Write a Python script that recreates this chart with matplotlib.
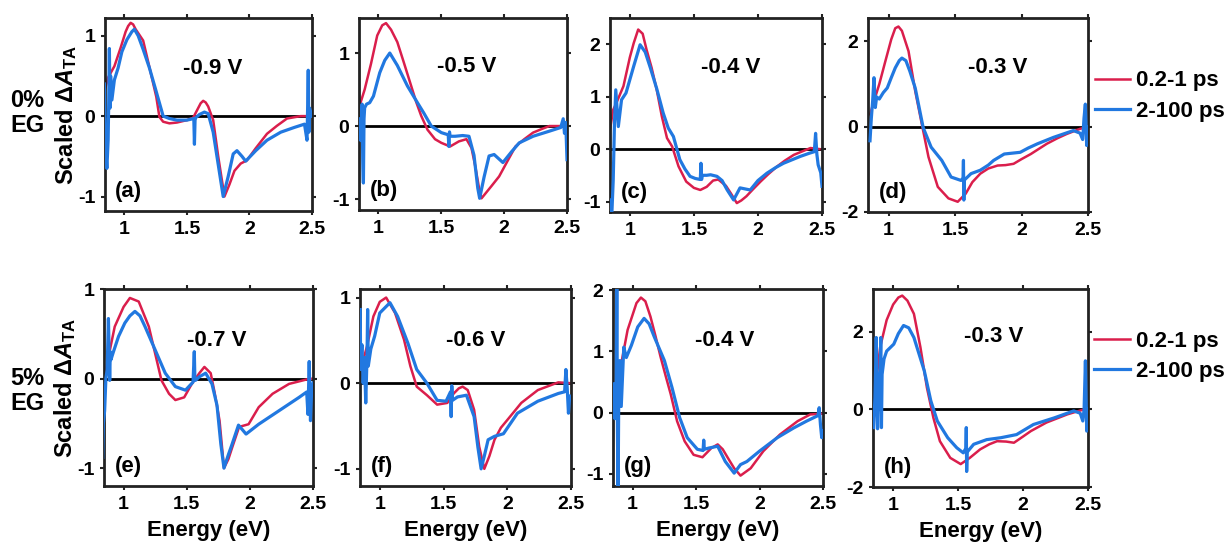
import matplotlib
matplotlib.use('Agg')
import matplotlib.pyplot as plt

plt.rcParams['font.family'] = ['Liberation Sans', 'DejaVu Sans']
plt.rcParams['font.weight'] = 'bold'
plt.rcParams['mathtext.fontset'] = 'custom'
plt.rcParams['mathtext.rm'] = 'Liberation Sans:bold'
plt.rcParams['mathtext.bf'] = 'Liberation Sans:bold'
plt.rcParams['mathtext.it'] = 'Liberation Sans:bold:italic'

RED = '#DA1E4C'
BLUE = '#2178E0'

# ---- data (energy in eV, scaled dA) ----
# (a) 0% EG, -0.9 V
a_red_e = [0.84, 0.87, 0.92, 0.97, 1.01, 1.03, 1.05, 1.07, 1.09, 1.15, 1.2, 1.255, 1.28, 1.31, 1.36, 1.42,
           1.5, 1.55, 1.59, 1.61, 1.63, 1.65, 1.67, 1.71, 1.75, 1.8, 1.84, 1.88, 1.93, 1.98, 2.05, 2.14, 2.22,
           2.3, 2.41, 2.5]
a_red = [0.3, 0.48, 0.62, 0.85, 1.05, 1.12, 1.16, 1.14, 1.08, 0.94, 0.61, 0.24, -0.01, -0.07, -0.09, -0.08,
         -0.05, -0.02, 0.1, 0.16, 0.19, 0.17, 0.12, -0.05, -0.5, -1.0, -0.85, -0.68, -0.59, -0.55, -0.4, -0.22,
         -0.12, -0.03, 0.0, 0.0]
a_blue_e = [0.84, 0.85, 0.86, 0.87, 0.875, 0.88, 0.885, 0.89, 0.9, 0.92, 0.95, 0.98, 1.02, 1.06, 1.08, 1.11,
            1.15, 1.2, 1.25, 1.31, 1.36, 1.42, 1.5, 1.555, 1.56, 1.565, 1.57, 1.6, 1.64, 1.67, 1.71, 1.75,
            1.79, 1.83, 1.87, 1.9, 1.94, 1.97, 2.05, 2.14, 2.25, 2.36, 2.44, 2.46, 2.465, 2.47, 2.475, 2.48, 2.5]
a_blue = [0.4, -0.4, -0.65, -0.3, 0.2, 0.84, 0.1, 0.5, 0.2, 0.45, 0.6, 0.8, 0.95, 1.05, 1.08, 1.0,
          0.83, 0.6, 0.33, 0.0, -0.03, -0.05, -0.05, -0.03, -0.35, -0.05, -0.02, 0.02, 0.05, 0.03, -0.2, -0.6,
          -1.0, -0.75, -0.47, -0.43, -0.5, -0.56, -0.43, -0.3, -0.2, -0.14, -0.1, -0.3, 0.1, 0.57, -0.2, 0.1, 0.0]

# (b) 0% EG, -0.5 V
b_red_e = [0.85, 0.89, 0.94, 0.99, 1.03, 1.06, 1.1, 1.15, 1.2, 1.26, 1.3, 1.34, 1.39, 1.45, 1.5, 1.57,
           1.64, 1.7, 1.74, 1.77, 1.8, 1.82, 1.9, 1.96, 2.02, 2.09, 2.16, 2.23, 2.3, 2.36, 2.5]
b_red = [0.28, 0.5, 0.85, 1.24, 1.38, 1.41, 1.32, 1.15, 0.88, 0.55, 0.33, 0.14, -0.05, -0.18, -0.23, -0.28,
         -0.21, -0.18, -0.3, -0.55, -0.85, -0.99, -0.82, -0.69, -0.5, -0.28, -0.18, -0.09, -0.04, 0.0, 0.0]
b_blue_e = [0.85, 0.86, 0.87, 0.875, 0.88, 0.885, 0.89, 0.905, 0.93, 0.96, 1.01, 1.05, 1.09, 1.15, 1.23,
            1.31, 1.36, 1.42, 1.5, 1.555, 1.56, 1.565, 1.57, 1.61, 1.67, 1.72, 1.76, 1.79, 1.805, 1.84, 1.88,
            1.92, 1.99, 2.06, 2.12, 2.23, 2.36, 2.45, 2.47, 2.48, 2.49, 2.5]
b_blue = [0.1, -0.2, 0.3, -0.5, -0.78, 0.1, 0.25, 0.3, 0.32, 0.41, 0.73, 0.9, 1.0, 0.83, 0.55,
          0.32, 0.18, 0.0, -0.09, -0.12, -0.28, -0.08, -0.14, -0.14, -0.13, -0.14, -0.4, -0.85, -0.99, -0.7, -0.41,
          -0.39, -0.5, -0.35, -0.23, -0.14, -0.07, -0.02, 0.1, -0.1, 0.05, -0.46]

# (c) 0% EG, -0.4 V
c_red_e = [0.84, 0.87, 0.895, 0.95, 1.0, 1.03, 1.065, 1.1, 1.13, 1.17, 1.21, 1.25, 1.29, 1.33, 1.38, 1.44,
           1.5, 1.55, 1.6, 1.65, 1.69, 1.75, 1.79, 1.835, 1.87, 1.91, 1.96, 2.02, 2.08, 2.15, 2.21, 2.28, 2.35,
           2.41, 2.48]
c_red = [0.3, 0.75, 0.88, 1.2, 1.75, 2.02, 2.28, 2.2, 1.9, 1.55, 1.13, 0.62, 0.21, 0.05, -0.33, -0.62,
         -0.74, -0.78, -0.72, -0.6, -0.58, -0.7, -0.85, -1.03, -0.98, -0.9, -0.77, -0.62, -0.48, -0.33, -0.22,
         -0.11, -0.04, 0.02, 0.0]
c_blue_e = [0.84, 0.85, 0.86, 0.87, 0.88, 0.89, 0.91, 0.935, 0.97, 1.03, 1.08, 1.12, 1.16, 1.21, 1.26, 1.3,
            1.34, 1.39, 1.43, 1.47, 1.51, 1.55, 1.555, 1.56, 1.565, 1.6, 1.63, 1.68, 1.72, 1.76, 1.81, 1.86,
            1.9, 1.94, 2.0, 2.07, 2.14, 2.2, 2.27, 2.33, 2.4, 2.44, 2.45, 2.46, 2.47, 2.49, 2.5]
c_blue = [-0.97, -1.2, -1.2, -0.6, 0.5, 1.13, 0.43, 0.94, 1.07, 1.58, 1.99, 1.85, 1.55, 1.15, 0.69, 0.4,
          0.24, -0.2, -0.38, -0.52, -0.56, -0.58, -0.27, -0.58, -0.5, -0.5, -0.49, -0.52, -0.6, -0.78, -0.97, -0.74,
          -0.76, -0.78, -0.6, -0.46, -0.35, -0.27, -0.2, -0.14, -0.08, -0.05, 0.3, -0.1, -0.3, -0.45, -0.71]

# (d) 0% EG, -0.3 V
d_red_e = [0.86, 0.9, 0.93, 0.975, 1.02, 1.05, 1.074, 1.1, 1.15, 1.2, 1.25, 1.3, 1.37, 1.45, 1.52, 1.58,
           1.63, 1.69, 1.75, 1.82, 1.88, 1.94, 2.0, 2.07, 2.13, 2.19, 2.27, 2.34, 2.44, 2.5]
d_red = [0.29, 0.7, 1.0, 1.53, 2.05, 2.31, 2.35, 2.25, 1.77, 0.84, 0.06, -0.71, -1.41, -1.68, -1.76, -1.57,
         -1.3, -1.1, -0.98, -0.91, -0.9, -0.87, -0.76, -0.64, -0.52, -0.4, -0.27, -0.17, -0.05, 0.0]
d_blue_e = [0.86, 0.87, 0.88, 0.89, 0.9, 0.91, 0.93, 0.96, 0.99, 1.02, 1.05, 1.08, 1.1, 1.13, 1.16, 1.2,
            1.26, 1.32, 1.4, 1.47, 1.545, 1.56, 1.563, 1.566, 1.57, 1.62, 1.69, 1.75, 1.79, 1.87, 1.99, 2.05,
            2.12, 2.24, 2.39, 2.44, 2.46, 2.47, 2.48, 2.49, 2.5]
d_blue = [-0.33, 0.2, 0.6, 1.15, 0.45, 0.7, 0.65, 0.8, 0.91, 1.15, 1.38, 1.55, 1.61, 1.55, 1.3, 0.91,
          -0.02, -0.48, -0.79, -1.18, -1.26, -1.2, -0.79, -1.72, -1.25, -1.1, -1.02, -0.9, -0.79, -0.64, -0.6, -0.5,
          -0.4, -0.25, -0.09, -0.15, -0.3, 0.2, 0.53, -0.44, 0.0]

# (e) 5% EG, -0.7 V
e_red_e = [0.835, 0.88, 0.93, 1.0, 1.05, 1.12, 1.2, 1.25, 1.3, 1.36, 1.41, 1.48, 1.54, 1.6, 1.64, 1.69,
           1.72, 1.76, 1.795, 1.83, 1.86, 1.915, 1.99, 2.07, 2.18, 2.31, 2.45, 2.5]
e_red = [-0.09, 0.24, 0.58, 0.8, 0.9, 0.86, 0.58, 0.28, -0.02, -0.17, -0.24, -0.21, -0.06, 0.06, 0.13, 0.06,
         -0.15, -0.47, -1.0, -0.9, -0.77, -0.54, -0.51, -0.32, -0.17, -0.06, -0.01, 0.0]
e_blue_e = [0.835, 0.84, 0.85, 0.86, 0.87, 0.88, 0.89, 0.895, 0.9, 0.92, 0.96, 1.01, 1.05, 1.09, 1.13, 1.17,
            1.25, 1.33, 1.41, 1.49, 1.55, 1.56, 1.565, 1.57, 1.6, 1.65, 1.7, 1.74, 1.77, 1.795, 1.83, 1.86,
            1.91, 1.97, 2.07, 2.23, 2.39, 2.45, 2.46, 2.47, 2.48, 2.49, 2.5]
e_blue = [-0.88, -0.5, -0.36, 0.0, 0.1, 0.67, -0.02, 0.3, 0.21, 0.3, 0.47, 0.62, 0.7, 0.75, 0.7, 0.58,
          0.32, 0.06, -0.09, -0.13, -0.04, 0.3, -0.02, -0.02, 0.02, 0.06, -0.06, -0.3, -0.73, -1.0, -0.85, -0.73,
          -0.52, -0.62, -0.51, -0.36, -0.21, -0.15, -0.4, 0.19, -0.47, -0.1, -0.05]

# (f) 5% EG, -0.6 V
f_red_e = [0.85, 0.9, 0.95, 1.0, 1.05, 1.12, 1.19, 1.24, 1.29, 1.37, 1.45, 1.53, 1.58, 1.62, 1.65, 1.69,
           1.74, 1.78, 1.82, 1.86, 1.9, 1.95, 2.0, 2.11, 2.24, 2.4, 2.5]
f_red = [0.16, 0.43, 0.78, 0.95, 1.0, 0.82, 0.51, 0.2, -0.04, -0.14, -0.25, -0.23, -0.12, -0.06, -0.04, -0.08,
         -0.31, -0.74, -1.0, -0.85, -0.66, -0.52, -0.43, -0.23, -0.08, 0.01, 0.0]
f_blue_e = [0.847, 0.85, 0.86, 0.87, 0.88, 0.89, 0.9, 0.905, 0.91, 0.93, 0.96, 1.0, 1.04, 1.08, 1.14, 1.22,
            1.29, 1.37, 1.45, 1.52, 1.555, 1.56, 1.565, 1.57, 1.61, 1.68, 1.74, 1.77, 1.795, 1.82, 1.85, 1.9,
            1.97, 2.08, 2.24, 2.4, 2.45, 2.46, 2.47, 2.48, 2.49]
f_blue = [0.86, 0.16, 0.45, 0.0, 0.3, -0.23, 0.3, 0.86, 0.2, 0.4, 0.55, 0.82, 0.88, 0.94, 0.78, 0.47,
          0.16, 0.0, -0.2, -0.21, -0.1, -0.39, -0.03, -0.2, -0.16, -0.14, -0.39, -0.75, -1.0, -0.85, -0.66, -0.62,
          -0.59, -0.35, -0.21, -0.12, -0.1, 0.16, -0.05, -0.35, -0.15]

# (g) 5% EG, -0.4 V
g_red_e = [0.85, 0.91, 0.96, 1.03, 1.065, 1.1, 1.14, 1.18, 1.22, 1.26, 1.3, 1.35, 1.41, 1.48, 1.55, 1.62,
           1.67, 1.71, 1.75, 1.8, 1.85, 1.93, 2.03, 2.16, 2.3, 2.4, 2.49]
g_red = [0.14, 0.8, 1.35, 1.79, 1.88, 1.82, 1.57, 1.25, 0.91, 0.6, 0.3, -0.14, -0.47, -0.69, -0.73, -0.58,
         -0.52, -0.6, -0.74, -0.91, -1.03, -0.91, -0.63, -0.36, -0.14, -0.03, -0.02]
g_blue_e = [0.85, 0.86, 0.87, 0.875, 0.88, 0.885, 0.89, 0.9, 0.91, 0.93, 0.95, 0.99, 1.04, 1.09, 1.13, 1.17,
            1.25, 1.31, 1.37, 1.43, 1.51, 1.555, 1.56, 1.565, 1.6, 1.67, 1.73, 1.8, 1.85, 1.9, 2.0, 2.14,
            2.27, 2.37, 2.46, 2.47, 2.48, 2.49, 2.5]
g_blue = [0.47, -0.1, 0.3, 2.3, -0.3, -1.4, 0.2, 0.85, 0.1, 1.07, 0.9, 1.1, 1.4, 1.54, 1.45, 1.24,
          0.85, 0.41, -0.08, -0.41, -0.6, -0.62, -0.45, -0.6, -0.58, -0.55, -0.8, -0.99, -0.85, -0.8, -0.63, -0.41,
          -0.25, -0.14, -0.05, 0.08, -0.2, -0.41, -0.3]

# (h) 5% EG, -0.3 V
h_red_e = [0.85, 0.9, 0.95, 1.0, 1.04, 1.07, 1.11, 1.16, 1.21, 1.26, 1.31, 1.36, 1.44, 1.52, 1.59, 1.67, 1.74,
           1.8, 1.87, 1.93, 2.0, 2.06, 2.18, 2.34, 2.47, 2.5]
h_red = [0.15, 1.6, 2.3, 2.7, 2.88, 2.93, 2.8, 2.46, 1.6, 0.56, -0.22, -0.82, -1.25, -1.41, -1.25, -1.03, -0.9,
         -0.82, -0.83, -0.86, -0.7, -0.56, -0.34, -0.13, 0.0, 0.0]
h_blue_e = [0.85, 0.86, 0.87, 0.88, 0.89, 0.9, 0.905, 0.91, 0.915, 0.93, 0.95, 1.005, 1.04, 1.08, 1.12, 1.16,
            1.24, 1.29, 1.34, 1.42, 1.49, 1.54, 1.56, 1.563, 1.566, 1.57, 1.62, 1.72, 1.83, 1.95, 2.08, 2.24,
            2.39, 2.44, 2.46, 2.47, 2.48, 2.49, 2.5]
h_blue = [-0.47, 0.3, 1.85, -0.5, 0.6, 1.0, 1.85, -0.47, 0.9, 1.3, 1.5, 1.68, 1.95, 2.16, 2.1, 1.85,
          0.99, 0.22, -0.3, -0.73, -0.99, -1.12, -1.0, -0.47, -1.6, -1.1, -0.9, -0.78, -0.73, -0.65, -0.39, -0.22,
          -0.04, -0.1, -0.3, 0.0, 1.25, -0.56, 0.0]

voltages = ['-0.9 V', '-0.5 V', '-0.4 V', '-0.3 V', '-0.7 V', '-0.6 V', '-0.4 V', '-0.3 V']
letters = ['(a)', '(b)', '(c)', '(d)', '(e)', '(f)', '(g)', '(h)']
ylims = [(-1.18, 1.22), (-1.15, 1.48), (-1.2, 2.5), (-2.0, 2.55),
         (-1.2, 1.0), (-1.2, 1.1), (-1.2, 2.02), (-2.0, 3.1)]
yticks = [[-1, 0, 1], [-1, 0, 1], [-1, 0, 1, 2], [-2, 0, 2],
          [-1, 0, 1], [-1, 0, 1], [-1, 0, 1, 2], [-2, 0, 2]]
series = [(a_red_e, a_red, a_blue_e, a_blue), (b_red_e, b_red, b_blue_e, b_blue),
          (c_red_e, c_red, c_blue_e, c_blue), (d_red_e, d_red, d_blue_e, d_blue),
          (e_red_e, e_red, e_blue_e, e_blue), (f_red_e, f_red, f_blue_e, f_blue),
          (g_red_e, g_red, g_blue_e, g_blue), (h_red_e, h_red, h_blue_e, h_blue)]

# axes boxes in pixels: left, right, top, bottom
W, H = 1227, 546
boxes = [(105, 312, 18, 211), (359, 567, 18, 210), (610, 822, 18, 212), (868, 1088, 18, 212),
         (104, 313, 289, 486), (360, 571, 289, 486), (613, 823, 289, 486), (873, 1088, 289, 487)]
vpos = [(0.52, 0.74), (0.52, 0.745), (0.57, 0.745), (0.59, 0.745),
        (0.54, 0.74), (0.55, 0.74), (0.53, 0.74), (0.56, 0.76)]

fig = plt.figure(figsize=(W / 100, H / 100), dpi=100)

for i, (l, r, t, b) in enumerate(boxes):
    ax = fig.add_axes([l / W, 1 - b / H, (r - l) / W, (b - t) / H])
    re, rv, be, bv = series[i]
    ax.axhline(0, color='black', lw=2, zorder=1)
    ax.plot(re, rv, color=RED, lw=1.8, zorder=2, label='0.2-1 ps')
    ax.plot(be, bv, color=BLUE, lw=2.3, zorder=3, label='2-100 ps')
    ax.set_xlim(0.845, 2.5)
    ax.set_ylim(*ylims[i])
    ax.set_xticks([1, 1.5, 2, 2.5])
    ax.set_xticklabels(['1', '1.5', '2', '2.5'])
    ax.set_yticks(yticks[i])
    ax.set_yticklabels([str(v) for v in yticks[i]])
    ax.tick_params(direction='out', length=3, width=1.5, top=True, right=True,
                   labelsize=14, pad=4, colors='#222222', labelcolor='black')
    for sp in ax.spines.values():
        sp.set_linewidth(2)
        sp.set_color('#222222')
    ax.text(vpos[i][0], vpos[i][1], voltages[i], transform=ax.transAxes,
            ha='center', va='center', fontsize=16, fontweight='bold')
    ax.text(0.05, 0.1, letters[i], transform=ax.transAxes,
            ha='left', va='center', fontsize=16, fontweight='bold')
    if i % 4 == 0:
        ax.set_ylabel(r'Scaled $\Delta\mathit{A}_{\mathrm{TA}}$', fontsize=17, fontweight='bold')
        ax.yaxis.set_label_coords(-0.125, 0.5)
    if i >= 4:
        ax.set_xlabel('Energy (eV)', fontsize=16, fontweight='bold', labelpad=5)
    if i % 4 == 3:
        ax.legend(loc='upper left', bbox_to_anchor=(1.03, 0.73 if i == 3 else 0.79),
                  frameon=False, fontsize=16, handlelength=1.6, handletextpad=0.25,
                  labelspacing=0.42, borderpad=0, borderaxespad=0)

fig.text(27 / W, 1 - 113 / H, '0%\nEG', ha='center', va='center', fontsize=17,
         fontweight='bold', linespacing=1.1)
fig.text(27 / W, 1 - 391 / H, '5%\nEG', ha='center', va='center', fontsize=17,
         fontweight='bold', linespacing=1.1)

fig.savefig('out.png', dpi=100)
